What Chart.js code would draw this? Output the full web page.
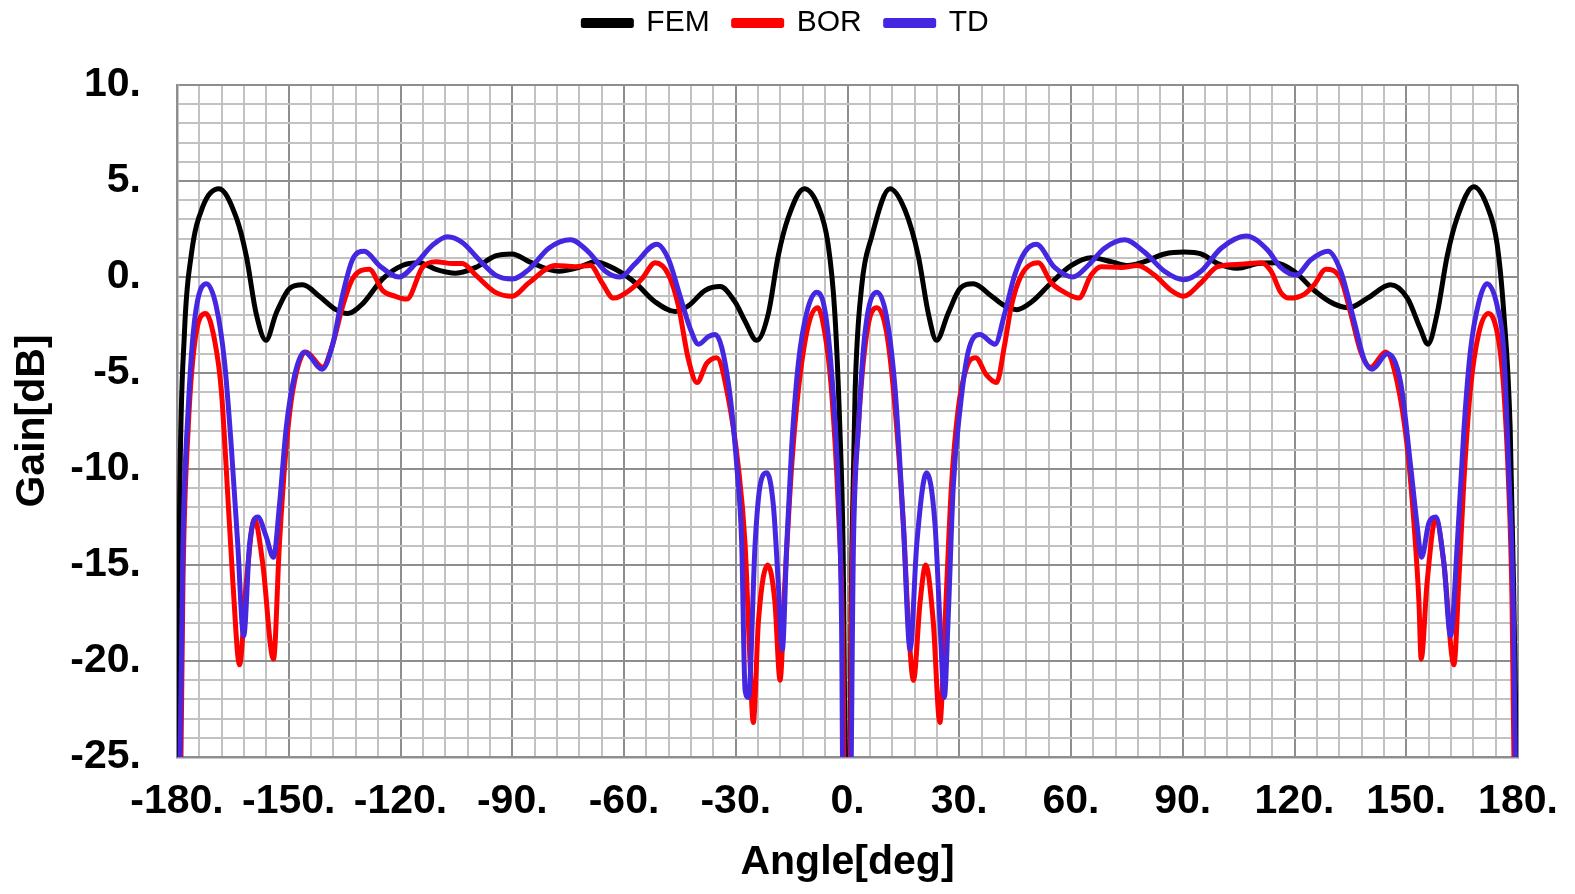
<!DOCTYPE html>
<html>
<head>
<meta charset="utf-8">
<script src="https://cdn.jsdelivr.net/npm/chart.js@4.4.1/dist/chart.umd.min.js"></script>
<style>
  html, body { margin: 0; padding: 0; background: #ffffff; }
  #wrap { width: 1575px; height: 894px; }
</style>
</head>
<body>
<div id="wrap"><canvas id="c" width="1575" height="894"></canvas></div>
<script>
// ---------- data ----------
const seriesNames = ["FEM", "BOR", "TD"];
const xTickLabels = [-180, -150, -120, -90, -60, -30, 0, 30, 60, 90, 120, 150, 180];
const yTickLabels = [-25, -20, -15, -10, -5, 0, 5, 10];

const femAngle = [-180, -179.3, -178, -176.2, -173, -168.75, -164.1, -161.4, -158.75, -156.1, -153.4, -149.8, -146.25, -141.8, -137.3, -134.2, -130.2, -124.8, -119.5, -115, -110.5, -105.2, -99.8, -94.5, -90, -85.5, -77.5, -72.1, -67.7, -62.3, -57, -51.6, -46.25, -42.7, -38.2, -34.2, -30.2, -27.5, -24.4, -21.25, -18.6, -15.9, -11.6, -7.9, -5.2, -3.4, -2.05, -1.2, -0.3, 0.3, 1.2, 2.05, 3.8, 6.5, 11.4, 15.4, 19, 21.7, 23.9, 27, 30.2, 33.75, 38.7, 42.2, 45.4, 49.4, 54.7, 60.1, 65.4, 70.8, 75.3, 79.7, 85.1, 90.4, 94.9, 99.4, 104.7, 110.1, 114.6, 119.9, 125.3, 130.6, 134.6, 139.6, 145.8, 150.3, 153.8, 155.8, 158.3, 161, 163.7, 168.1, 171.7, 174.4, 176.2, 177.9, 178.8, 180];
const femGain  = [-30, -11.9, -2.9, 1.1, 3.7, 4.6, 3.1, 1.1, -1.9, -3.3, -1.9, -0.6, -0.4, -1.0, -1.7, -1.9, -1.4, -0.1, 0.6, 0.74, 0.4, 0.2, 0.5, 1.1, 1.2, 0.8, 0.3, 0.5, 0.8, 0.4, -0.3, -1.3, -1.8, -1.5, -0.7, -0.5, -1.3, -2.3, -3.3, -1.9, 1.1, 3.1, 4.6, 3.7, 1.7, -1.9, -7.9, -13.9, -30, -30, -13.9, -5.9, -0.5, 2.1, 4.6, 3.5, 1.1, -1.9, -3.3, -1.9, -0.6, -0.35, -1.0, -1.5, -1.7, -1.3, -0.3, 0.6, 1.0, 0.8, 0.6, 0.8, 1.2, 1.3, 1.2, 0.7, 0.46, 0.7, 0.74, 0.3, -0.7, -1.4, -1.6, -1.1, -0.4, -1.1, -2.7, -3.5, -1.9, 1.1, 3.1, 4.7, 3.7, 1.7, -1.9, -7.9, -15.9, -30];

const borAngle = [-179.2, -178.4, -177, -175.3, -172.3, -169.9, -168.1, -166.8, -165, -163.2, -161.4, -159.2, -157, -154.1, -152.5, -150.7, -148.9, -145.4, -140.9, -138.2, -135.5, -132.9, -128.4, -124.8, -121.5, -118.3, -114.1, -110.5, -106.1, -103.4, -99.8, -94.5, -90, -85.5, -78.4, -73, -69, -65.9, -62.8, -57.9, -55.2, -51.6, -48, -45.4, -42.7, -40.4, -37.8, -35.1, -32, -29.3, -27.5, -26.2, -25.3, -23.9, -21.4, -19.5, -18.1, -16.8, -15, -13.2, -10.5, -8, -6.1, -4.3, -2.5, -1.2, -0.7, 0.5, 1.2, 2.9, 5.2, 7.9, 10.5, 12.8, 15, 16.3, 17.7, 19.5, 21, 23, 24.8, 26.2, 27.9, 29.7, 32, 34.4, 37.3, 40, 42.2, 44, 46.7, 51.2, 54.7, 58.3, 62.1, 65.4, 68.1, 73.5, 77.9, 82.4, 86.9, 90.2, 94.9, 99.4, 105.6, 111, 113.7, 116.3, 118.6, 122.6, 125.3, 128.4, 132.4, 135.1, 137.8, 140.4, 144.5, 147.6, 150.3, 152.1, 153.4, 154, 155.6, 157.9, 160.1, 162.8, 164.1, 165.4, 167.2, 169.5, 172.1, 174.8, 176.2, 177.5, 178.4, 179.2];
const borGain  = [-30, -15.9, -7.9, -3.5, -1.9, -3.3, -5.9, -9.9, -15.9, -20.2, -15.9, -12.6, -14.9, -19.9, -13.9, -8.9, -5.9, -3.9, -4.7, -3.5, -1.5, -0.1, 0.4, -0.7, -1.0, -1.15, 0.5, 0.8, 0.7, 0.7, 0.1, -0.8, -1.0, -0.3, 0.6, 0.54, 0.6, -0.3, -1.1, -0.6, -0.1, 0.74, 0.1, -1.5, -4.3, -5.5, -4.5, -4.2, -6.3, -9.9, -13.9, -19.9, -23.2, -17.9, -15, -16.9, -21, -15.9, -9.9, -5.9, -2.5, -1.6, -2.9, -5.9, -11.9, -19.9, -30, -30, -15.9, -7.9, -2.9, -1.6, -2.9, -6.9, -12.9, -17.9, -21, -16.9, -15, -17.9, -23.2, -17.9, -10.9, -6.9, -4.7, -4.2, -5.1, -5.5, -3.5, -1.5, 0.1, 0.74, -0.3, -0.8, -1.1, 0.1, 0.54, 0.5, 0.6, 0.1, -0.7, -1.0, -0.3, 0.54, 0.66, 0.74, 0.3, -0.8, -1.1, -0.9, -0.4, 0.4, -0.1, -1.9, -3.9, -4.7, -3.9, -5.5, -8.9, -12.9, -16.9, -19.9, -15.9, -12.6, -14.9, -20.2, -15.9, -10.9, -5.9, -2.9, -1.9, -3.3, -5.9, -10.9, -16.9, -30];

const tdAngle = [-179.5, -178.4, -177, -175.3, -172.1, -169.5, -167.2, -165.4, -163.7, -162.1, -160.5, -158.3, -156.1, -154.1, -152.5, -150.7, -148.4, -145.8, -141, -138.2, -135.5, -132.9, -129.7, -125.7, -120.4, -115.9, -111.4, -107.4, -103.4, -98.9, -94.5, -90, -85.5, -80.2, -74.4, -69.5, -65, -61, -57, -51.2, -48, -45.4, -42.2, -40, -37.3, -35.5, -32, -29.7, -28.4, -27.5, -26.6, -24.8, -23.5, -21.7, -19.9, -18.6, -17.5, -16.3, -15, -13.2, -11, -8.3, -6.1, -4.3, -2.5, -1.6, -1.1, 0.6, 1.6, 2.9, 4.7, 7.9, 10.5, 12.8, 15, 16.8, 18.6, 21.25, 23.5, 24.8, 26, 27, 28.4, 30.2, 32.4, 35.5, 39.6, 42.2, 44.9, 47.6, 50.7, 55.6, 60.5, 64.6, 69, 74.4, 79.7, 85.1, 90.2, 94.9, 100.3, 107, 112.8, 116.3, 120.4, 124.4, 129, 132.4, 136, 138.7, 140.9, 144.9, 148.5, 151.2, 152.9, 154.1, 156.1, 157.9, 160.1, 161.9, 163.7, 165.5, 167.2, 169.5, 171.7, 174.4, 176.2, 177.5, 178.8, 179.6];
const tdGain  = [-30, -13.9, -6.9, -2.3, -0.35, -1.5, -4.5, -8.9, -13.9, -18.7, -13.9, -12.5, -13.5, -14.6, -11.9, -7.9, -5.1, -3.9, -4.8, -3.5, -0.9, 0.9, 1.34, 0.6, 0.0, 0.7, 1.66, 2.1, 1.8, 0.9, 0.1, -0.1, 0.4, 1.5, 1.94, 1.3, 0.3, 0.0, 0.7, 1.7, 0.9, -0.7, -2.7, -3.5, -3.1, -3.0, -5.5, -9.9, -13.9, -21.5, -21.9, -13.9, -10.9, -10.2, -11.9, -15.9, -19.4, -13.9, -8.9, -4.5, -1.9, -0.8, -1.7, -4.9, -10.9, -17.9, -30, -30, -13.9, -7.9, -2.9, -0.8, -2.1, -5.9, -12.9, -19.4, -13.9, -10.2, -12.9, -17.9, -21.9, -17.9, -10.9, -6.9, -3.9, -3.0, -3.5, -1.9, 0.1, 1.3, 1.7, 0.5, 0.0, 0.6, 1.5, 1.94, 1.3, 0.3, -0.14, 0.3, 1.5, 2.14, 1.4, 0.5, 0.1, 0.9, 1.34, 0.3, -2.3, -4.3, -4.8, -4.0, -5.5, -9.9, -12.9, -14.6, -12.8, -12.5, -14.9, -18.7, -13.9, -7.9, -3.9, -1.3, -0.35, -1.5, -3.9, -9.9, -17.9, -30];

// ---------- chart ----------
const toXY = (xs, ys) => xs.map((x, i) => ({ x: x, y: ys[i] }));
const FONT = "'Liberation Sans', Arial, sans-serif";
const MAJOR = '#8e8e8e', MINOR = '#c2c2c2';

const fixLayout = {
  id: 'fixLayout',
  beforeLayout(chart) {
    const lg = chart.legend;
    if (lg && !lg._fixed) {
      const f = lg.fit.bind(lg);
      lg.fit = function () { f(); this.height = 85; };
      const d = lg.draw.bind(lg);
      lg.draw = function () {
        const ctx = this.ctx;
        ctx.save();
        ctx.translate(27, -16);
        d();
        ctx.restore();
      };
      lg._fixed = true;
    }
  }
};

new Chart(document.getElementById('c'), {
  type: 'line',
  data: {
    datasets: [
      { label: seriesNames[0], data: toXY(femAngle, femGain), borderColor: '#000000', backgroundColor: '#000000', order: 2 },
      { label: seriesNames[1], data: toXY(borAngle, borGain), borderColor: '#ff0000', backgroundColor: '#ff0000', order: 1 },
      { label: seriesNames[2], data: toXY(tdAngle, tdGain), borderColor: '#4527e2', backgroundColor: '#4527e2', order: 0 }
    ]
  },
  options: {
    responsive: false,
    animation: false,
    devicePixelRatio: 1,
    layout: { padding: { left: 0, right: 57, top: 0, bottom: 0 } },
    elements: {
      point: { radius: 0 },
      line: { borderWidth: 5, cubicInterpolationMode: 'monotone', borderCapStyle: 'round', borderJoinStyle: 'round' }
    },
    plugins: {
      tooltip: { enabled: false },
      legend: {
        position: 'top',
        align: 'center',
        labels: {
          sort: (a, b) => a.datasetIndex - b.datasetIndex,
          boxWidth: 48,
          boxHeight: 5,
          padding: 24,
          color: '#000',
          font: { family: FONT, size: 30 }
        }
      }
    },
    scales: {
      x: {
        type: 'linear',
        min: -180, max: 180,
        border: { color: MAJOR, width: 2.5 },
        grid: {
          drawTicks: false,
          color: (c) => (c.tick && c.tick.value % 30 === 0) ? MAJOR : MINOR,
          lineWidth: 2
        },
        ticks: {
          stepSize: 6,
          autoSkip: false,
          maxRotation: 0,
          padding: 20,
          color: '#000',
          font: { family: FONT, size: 41, weight: 'bold' },
          callback: (v) => xTickLabels.includes(v) ? v + '.' : ''
        },
        title: {
          display: true,
          text: 'Angle[deg]',
          color: '#000',
          font: { family: FONT, size: 41, weight: 'bold' },
          padding: { top: 0, bottom: 7 }
        },
        afterFit: (s) => { s.height = 137; s.paddingLeft = 0; s.paddingRight = 0; }
      },
      y: {
        type: 'linear',
        min: -25, max: 10,
        border: { color: MAJOR, width: 2.5 },
        grid: {
          drawTicks: false,
          color: (c) => (c.tick && c.tick.value % 5 === 0) ? MAJOR : MINOR,
          lineWidth: 2
        },
        ticks: {
          stepSize: 1,
          autoSkip: false,
          padding: 36,
          color: '#000',
          font: { family: FONT, size: 41, weight: 'bold' },
          callback: (v) => yTickLabels.includes(v) ? v + '.' : ''
        },
        title: {
          display: true,
          text: 'Gain[dB]',
          color: '#000',
          font: { family: FONT, size: 41, weight: 'bold' },
          padding: { top: 8, bottom: 0 }
        },
        afterFit: (s) => { s.width = 177; s.paddingTop = 0; s.paddingBottom = 0; }
      }
    }
  },
  plugins: [fixLayout]
});
</script>
</body>
</html>
